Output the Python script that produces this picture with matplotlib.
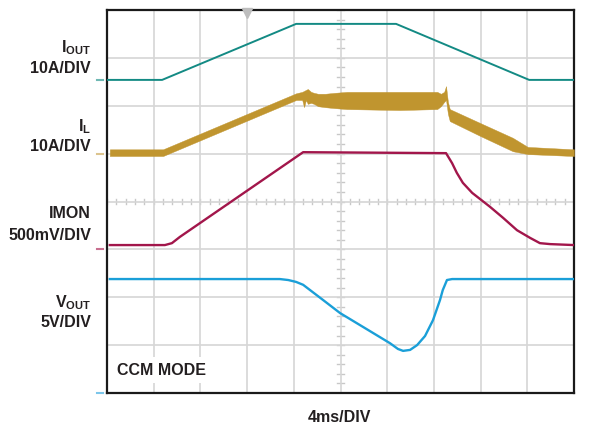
import numpy as np
import matplotlib
matplotlib.use("Agg")
import matplotlib.pyplot as plt

plt.rcParams["font.family"] = ["Liberation Sans", "DejaVu Sans"]
plt.rcParams["mathtext.fontset"] = "custom"
plt.rcParams["mathtext.bf"] = "Liberation Sans:bold"
plt.rcParams["mathtext.rm"] = "Liberation Sans"

# ---------- traces (x, y in divisions) ----------
iout_t = [0.00, 1.18, 4.05, 6.19, 9.04, 10.00]
iout_v = [6.54, 6.54, 7.71, 7.71, 6.54, 6.54]

# inductor current: thick band -> top / bottom envelope
il_t   = [0.06, 1.20, 4.05, 4.18, 4.22, 4.26, 4.30, 4.37, 4.43, 4.52, 4.67, 4.88, 5.14, 6.27,
          7.07, 7.15, 7.22, 7.26, 7.30, 7.34, 7.99, 8.69, 9.01, 10.00]
il_top = [5.09, 5.09, 6.26, 6.29, 6.31, 6.33, 6.35, 6.29, 6.27, 6.25, 6.25, 6.27, 6.29, 6.29,
          6.29, 6.25, 6.29, 6.41, 6.08, 5.93, 5.64, 5.33, 5.14, 5.09]
il_bot = [4.95, 4.95, 6.12, 6.12, 5.97, 6.12, 6.04, 6.06, 6.04, 5.99, 5.97, 5.95, 5.93, 5.91,
          5.93, 5.99, 6.08, 6.12, 5.83, 5.68, 5.37, 5.05, 4.99, 4.95]

imon_t = [0.06, 1.24, 1.39, 1.56, 4.20, 7.26, 7.39, 7.49, 7.62, 7.82, 8.20, 8.48, 8.78, 9.06,
          9.27, 9.49, 10.00]
imon_v = [3.09, 3.09, 3.13, 3.26, 5.03, 5.01, 4.80, 4.60, 4.39, 4.18, 3.89, 3.66, 3.40, 3.24,
          3.13, 3.11, 3.09]

vout_t = [0.06, 3.70, 3.88, 4.05, 4.20, 4.63, 4.99, 6.06, 6.23, 6.34, 6.49, 6.64, 6.81, 6.98,
          7.13, 7.19, 7.28, 7.39, 10.00]
vout_v = [2.38, 2.38, 2.36, 2.32, 2.26, 1.94, 1.67, 1.04, 0.92, 0.88, 0.90, 1.00, 1.19, 1.52,
          1.94, 2.15, 2.36, 2.38, 2.38]

# channel ground markers on the left edge
gnd_lv  = [6.54, 4.99, 3.01, 0.00]
gnd_col = ["#6fb8b3", "#dcc48e", "#c86f8f", "#7cc6ea"]

C_IOUT, C_IL, C_IMON, C_VOUT = "#138a84", "#c0952f", "#a2164b", "#1a9fd8"
TXT = "#231f20"

fig = plt.figure(figsize=(5.94, 4.26), dpi=100)
ax = fig.add_axes([107 / 594, 33 / 426, 467 / 594, 383 / 426])
ax.set_xlim(0, 10); ax.set_ylim(0, 8)
ax.set_xticks(range(11)); ax.set_yticks(range(9))
ax.tick_params(length=0, labelbottom=False, labelleft=False)
ax.grid(True, color="#d6d6d6", lw=1.2)
for s in ax.spines.values():
    s.set_linewidth(1.6); s.set_color("#1a1a1a")

# minor ticks along centre cross
for x in np.arange(0, 10.01, 0.2):
    ax.plot([x, x], [3.94, 4.06], color="#c8c8c8", lw=1.0, zorder=1)
for y in np.arange(0, 8.01, 0.2):
    ax.plot([4.93, 5.07], [y, y], color="#c8c8c8", lw=1.0, zorder=1)

ax.plot(iout_t, iout_v, color=C_IOUT, lw=1.4, zorder=3)
ax.fill_between(il_t, il_bot, il_top, color=C_IL, lw=0.3, edgecolor=C_IL, zorder=3)
ax.plot(imon_t, imon_v, color=C_IMON, lw=1.7, zorder=3)
ax.plot(vout_t, vout_v, color=C_VOUT, lw=1.7, zorder=3)

for lv, c in zip(gnd_lv, gnd_col):
    ax.plot([-0.21, -0.08], [lv, lv], color=c, lw=1.5, clip_on=False)

# trigger marker
ax.plot([3.0], [7.93], marker="v", ms=7, color="#bdbdbd", clip_on=False, zorder=4)

ax.text(0.21, 0.38, "CCM MODE", fontsize=11.5, fontweight="bold", color=TXT, va="baseline",
        bbox=dict(fc="white", ec="none", pad=4))

fs = 11.5
lx = 91 / 594
labels = [
    (r"$\mathbf{I}_{\mathbf{OUT}}$", 52), ("10A/DIV", 73),
    (r"$\mathbf{I}_{\mathbf{L}}$", 131), ("10A/DIV", 151),
    ("IMON", 218), ("500mV/DIV", 240),
    (r"$\mathbf{V}_{\mathbf{OUT}}$", 307), ("5V/DIV", 327),
]
for s, ypx in labels:
    fig.text(lx, 1 - ypx / 426, s, fontsize=fs, fontweight="bold", color=TXT,
             ha="right", va="baseline")
fig.text(339 / 594, 1 - 422 / 426, "4ms/DIV", fontsize=fs, fontweight="bold", color=TXT,
         ha="center", va="baseline")

fig.savefig("out.png", dpi=100)
